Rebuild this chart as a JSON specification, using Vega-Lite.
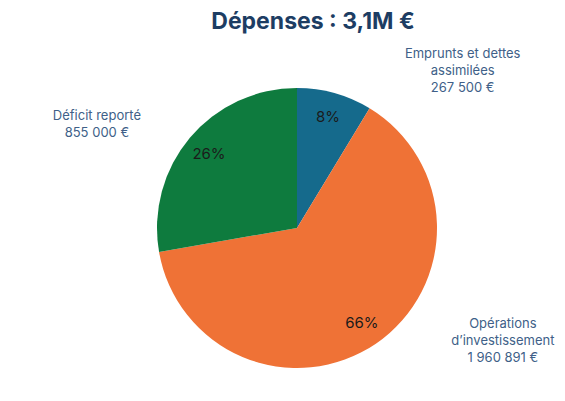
{
  "$schema": "https://vega.github.io/schema/vega-lite/v6.json",
  "width": 536,
  "height": 346,
  "autosize": {"type": "none"},
  "padding": {"left": 29, "top": 55, "right": 0, "bottom": 0},
  "background": "white",
  "view": {"stroke": null},
  "title": {
    "text": "Dépenses : 3,1M €",
    "font": "Inter",
    "fontSize": 23,
    "fontWeight": "bold",
    "color": "#1d3d63",
    "anchor": "middle",
    "dx": 16,
    "dy": 27,
    "offset": 23,
    "baseline": "alphabetic"
  },
  "data": {
    "values": [
      {"poste": "Emprunts et dettes assimilées", "montant": 267500, "part": "8%", "etiquette": "Emprunts et dettes\nassimilées\n267 500 €", "rang": 1},
      {"poste": "Opérations d'investissement", "montant": 1960891, "part": "66%", "etiquette": "Opérations\nd’investissement\n1 960 891 €", "rang": 2},
      {"poste": "Déficit reporté", "montant": 855000, "part": "26%", "etiquette": "Déficit reporté\n855 000 €", "rang": 3}
    ]
  },
  "encoding": {
    "theta": {"field": "montant", "type": "quantitative", "stack": true},
    "order": {"field": "rang", "type": "quantitative"}
  },
  "layer": [
    {
      "mark": {"type": "arc", "radius": 140},
      "encoding": {
        "color": {
          "field": "poste",
          "type": "nominal",
          "scale": {
            "domain": ["Emprunts et dettes assimilées", "Opérations d'investissement", "Déficit reporté"],
            "range": ["#156a8c", "#ef7236", "#0e7b3e"]
          },
          "legend": null
        }
      }
    },
    {
      "mark": {"type": "text", "radius": 115, "font": "Inter", "fontSize": 15, "color": "#1b1b1b"},
      "encoding": {"text": {"field": "part", "type": "nominal"}}
    },
    {
      "mark": {"type": "text", "radius": 140, "dx": 128, "dy": -39, "font": "Inter", "fontSize": 13, "lineHeight": 17, "color": "#405f88", "align": "center", "baseline": "middle", "lineBreak": "\n"},
      "encoding": {"text": {"condition": {"test": "datum.rang === 1", "field": "etiquette"}, "value": ""}}
    },
    {
      "mark": {"type": "text", "radius": 140, "dx": 127, "dy": -20, "font": "Inter", "fontSize": 13, "lineHeight": 17, "color": "#405f88", "align": "center", "baseline": "middle", "lineBreak": "\n"},
      "encoding": {"text": {"condition": {"test": "datum.rang === 2", "field": "etiquette"}, "value": ""}}
    },
    {
      "mark": {"type": "text", "radius": 140, "dx": -93, "dy": -22, "font": "Inter", "fontSize": 13, "lineHeight": 17, "color": "#405f88", "align": "center", "baseline": "middle", "lineBreak": "\n"},
      "encoding": {"text": {"condition": {"test": "datum.rang === 3", "field": "etiquette"}, "value": ""}}
    }
  ]
}
